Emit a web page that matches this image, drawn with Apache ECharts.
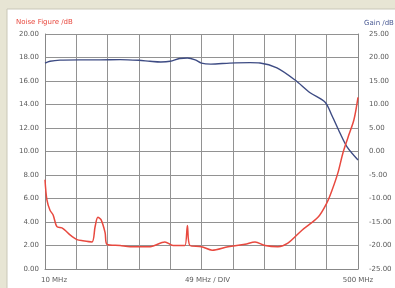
<!DOCTYPE html>
<html>
<head>
<meta charset="utf-8">
<script src="https://cdn.jsdelivr.net/npm/echarts@6/dist/echarts.min.js"></script>
<style>
  html, body { margin: 0; padding: 0; background: #e7e5d4; }
  #chart { width: 395px; height: 288px; }
</style>
</head>
<body>
<div id="chart"></div>
<script>
// x is in divisions of 49 MHz (0 = 10 MHz, 10 = 500 MHz)
const nfX = [0, 0.06, 0.16, 0.26, 0.38, 0.54, 0.64, 0.8, 1.02, 1.21, 1.5, 1.6, 1.69, 1.79, 1.92, 1.98,
  2.4, 2.72, 3.0, 3.36, 3.83, 4.09, 4.31, 4.47, 4.55, 4.63, 5.0, 5.34, 5.85, 6.39, 6.71, 7.03, 7.44,
  7.76, 8.21, 8.72, 9.0, 9.17, 9.36, 9.52, 9.68, 9.87, 10]
const nfY = [7.6, 5.9, 5.0, 4.6, 3.6, 3.5, 3.3, 2.9, 2.5, 2.4, 2.3, 3.6, 4.4, 4.2, 3.1, 2.1,
  2.0, 1.9, 1.9, 1.9, 2.3, 2.0, 2.0, 2.0, 3.7, 2.0, 1.9, 1.6, 1.9, 2.1, 2.3, 2.0, 1.9,
  2.2, 3.3, 4.4, 5.6, 6.7, 8.2, 9.9, 11.2, 12.7, 14.6]
const gainX = [0, 0.16, 0.48, 1.1, 1.75, 2.4, 3.0, 3.35, 3.7, 4.0, 4.3, 4.55, 4.8, 5.0, 5.3, 5.9,
  6.55, 6.87, 7.41, 7.99, 8.47, 8.95, 9.17, 9.42, 9.65, 10]
const gainY = [18.8, 19.2, 19.45, 19.5, 19.5, 19.55, 19.4, 19.2, 19.05, 19.2, 19.8, 19.9, 19.5, 18.8, 18.6, 18.8,
  18.9, 18.83, 17.8, 15.2, 12.5, 10.5, 7.6, 4.0, 1.0, -1.8]
const xLabels = { 0: '{a|10 MHz}', 5: '{b|49 MHz / DIV}', 10: '500 MHz' }

const chart = echarts.init(document.getElementById('chart'))
const font = 'DejaVu Sans'
chart.setOption({
  animation: false,
  textStyle: { fontFamily: font },
  graphic: [{
    type: 'rect', z: -10, silent: true,
    shape: { x: 7, y: 9, width: 400, height: 290 },
    style: { fill: '#ffffff', stroke: '#c9c7b8', lineWidth: 1 }
  }],
  title: [
    { text: 'Noise Figure /dB', left: 11, top: 14,
      textStyle: { color: '#e8493f', fontSize: 7, fontWeight: 'normal', fontFamily: font } },
    { text: 'Gain /dB', left: 359, top: 15,
      textStyle: { color: '#4a5a94', fontSize: 7, fontWeight: 'normal', fontFamily: font } }
  ],
  grid: { left: 45, right: 37, top: 34, bottom: 19 },
  xAxis: {
    type: 'value', min: 0, max: 10, interval: 1,
    axisLine: { show: true, lineStyle: { color: '#888' } },
    axisTick: { show: false },
    splitLine: { show: true, lineStyle: { color: '#929292', width: 1 } },
    axisLabel: {
      color: '#5a5a5a', fontSize: 7, margin: 8,
      formatter: v => xLabels[v] || '',
      rich: {
        a: { padding: [0, 0, 0, 18], fontSize: 7, color: '#5a5a5a' },
        b: { padding: [0, 0, 0, 12], fontSize: 7, color: '#5a5a5a' }
      }
    }
  },
  yAxis: [
    {
      type: 'value', min: 0, max: 20, interval: 2,
      axisLine: { show: true, lineStyle: { color: '#888' } },
      axisTick: { show: false },
      splitLine: { show: true, lineStyle: { color: '#929292', width: 1 } },
      axisLabel: { color: '#5a5a5a', fontSize: 7, margin: 6, formatter: v => v.toFixed(2) }
    },
    {
      type: 'value', min: -25, max: 25, interval: 5,
      axisLine: { show: true, lineStyle: { color: '#888' } },
      axisTick: { show: false },
      splitLine: { show: false },
      axisLabel: { color: '#5a5a5a', fontSize: 7, margin: 11, formatter: v => v.toFixed(2) }
    }
  ],
  series: [
    {
      type: 'line', yAxisIndex: 1, showSymbol: false, smooth: 0.3,
      data: gainX.map((x, i) => [x, gainY[i]]),
      lineStyle: { color: '#3e4c84', width: 1.4 }
    },
    {
      type: 'line', yAxisIndex: 0, showSymbol: false, smooth: 0.3,
      data: nfX.map((x, i) => [x, nfY[i]]),
      lineStyle: { color: '#e8493f', width: 1.5 }
    }
  ]
})
</script>
</body>
</html>
